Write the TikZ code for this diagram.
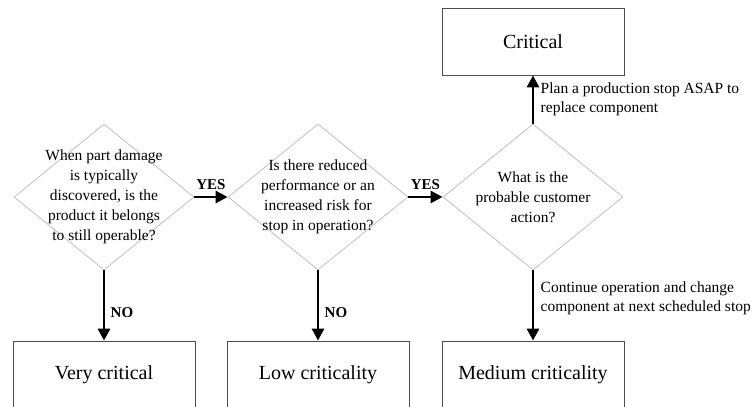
\documentclass[tikz,border=0pt]{standalone}
\usepackage{fontspec}
\setmainfont{Liberation Serif}
\usetikzlibrary{shapes.geometric,arrows.meta}

\begin{document}
\begin{tikzpicture}[x=1pt,y=-1pt,
	decision/.style={diamond,draw=gray!50,line width=0.8pt,minimum width=180pt,minimum height=146pt,inner sep=0pt},
	qtext/.style={align=center,font=\fontsize{15.5}{20}\selectfont},
	outcome/.style={rectangle,draw=black!70,line width=0.8pt,minimum width=182pt,minimum height=67pt,font=\fontsize{20}{24}\selectfont},
	arr/.style={line width=2.8pt,-{Triangle[length=12pt,width=12pt]}},
	yesno/.style={font=\fontsize{15}{18}\selectfont\bfseries},
	note/.style={align=left,font=\fontsize{15.5}{19}\selectfont}]
	\useasboundingbox (0,0) rectangle (753,407);
	% questions
	\node[decision] (q1) at (104,197) {};
	\node[qtext] (q1t) at (q1) {When part damage\\is typically\\discovered, is the\\product it belongs\\to still operable?};
	\node[decision] (q2) at (318,197) {};
	\node[qtext] (q2t) at (q2) {Is there reduced\\performance or an\\increased risk for\\stop in operation?};
	\node[decision] (q3) at (533,197) {};
	\node[qtext] (q3t) at (q3) {What is the\\probable customer\\action?};
	% outcomes
	\node[outcome] (crit) at (533,41.5) {Critical};
	\node[outcome] (vcrit) at (104,374.5) {Very critical};
	\node[outcome] (low) at (318,374.5) {Low criticality};
	\node[outcome] (med) at (533,374.5) {Medium criticality};
	% arrows
	\draw[arr] (q1.east) -- (q2.west) node[midway,above=3pt,yesno] (y1) {YES};
	\draw[arr] (q2.east) -- (q3.west) node[midway,above=3pt,yesno] (y2) {YES};
	\draw[arr] (q1.south) -- (vcrit.north) node[pos=0.6,right=2pt,yesno] (n1) {NO};
	\draw[arr] (q2.south) -- (low.north) node[pos=0.6,right=2pt,yesno] (n2) {NO};
	\draw[arr] (q3.north) -- (crit.south) node[midway,right=3pt,note] (p1) {Plan a production stop ASAP to\\replace component};
	\draw[arr] (q3.south) -- (med.north) node[pos=0.4,right=3pt,note] (p2) {Continue operation and change\\component at next scheduled stop};
\end{tikzpicture}
\end{document}
